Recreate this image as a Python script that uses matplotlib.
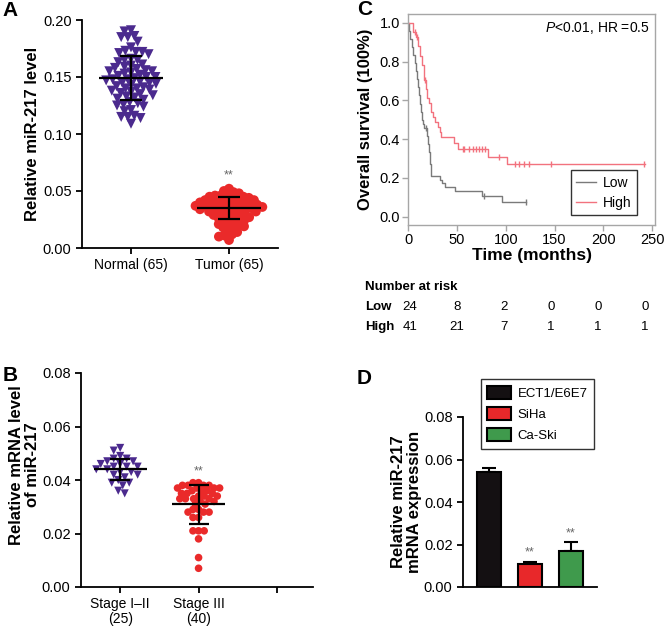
import numpy as np
import matplotlib
matplotlib.use('Agg')
import matplotlib.pyplot as plt
import matplotlib.transforms as mtransforms
from matplotlib.patches import Patch

plt.rcParams['font.family'] = ['Liberation Sans', 'DejaVu Sans']
plt.rcParams['mathtext.fontset'] = 'custom'
plt.rcParams['mathtext.it'] = 'Liberation Sans:italic'
plt.rcParams['mathtext.rm'] = 'Liberation Sans'

# ---- panel A: miR-217 in normal vs tumor tissue
a_groups = ['Normal (65)', 'Tumor (65)']
a_normal = [0.191, 0.190, 0.186, 0.185, 0.185, 0.181, 0.176, 0.173, 0.172, 0.172,
            0.171, 0.170, 0.166, 0.165, 0.165, 0.163, 0.161, 0.160, 0.159, 0.158,
            0.157, 0.156, 0.155, 0.155, 0.154, 0.153, 0.152, 0.151, 0.150, 0.150,
            0.149, 0.148, 0.148, 0.147, 0.146, 0.145, 0.145, 0.144, 0.143, 0.142,
            0.141, 0.140, 0.140, 0.139, 0.138, 0.137, 0.136, 0.135, 0.134, 0.133,
            0.132, 0.131, 0.130, 0.128, 0.127, 0.126, 0.125, 0.124, 0.121, 0.120,
            0.116, 0.115, 0.115, 0.114, 0.109]
a_tumor = [0.052, 0.050, 0.049, 0.048, 0.047, 0.046, 0.046, 0.045, 0.045, 0.044,
           0.044, 0.043, 0.043, 0.042, 0.042, 0.041, 0.041, 0.040, 0.040, 0.040,
           0.039, 0.039, 0.038, 0.038, 0.038, 0.037, 0.037, 0.036, 0.036, 0.036,
           0.035, 0.035, 0.035, 0.034, 0.034, 0.033, 0.033, 0.032, 0.032, 0.031,
           0.031, 0.030, 0.030, 0.029, 0.028, 0.028, 0.027, 0.026, 0.025, 0.025,
           0.024, 0.023, 0.022, 0.021, 0.020, 0.020, 0.019, 0.018, 0.017, 0.015,
           0.014, 0.012, 0.011, 0.010, 0.007]
a_mean = [0.149, 0.035]
a_sd = [0.0195, 0.0098]

# ---- panel B: by clinical stage
b_groups = ['Stage I\u2013II\n(25)', 'Stage III\n(40)', '']
b_early = [0.052, 0.051, 0.049, 0.048, 0.048, 0.047, 0.047, 0.046, 0.046, 0.045,
           0.045, 0.045, 0.044, 0.044, 0.043, 0.043, 0.042, 0.042, 0.041, 0.040,
           0.039, 0.039, 0.038, 0.036, 0.035]
b_late = [0.039, 0.039, 0.038, 0.038, 0.038, 0.038, 0.037, 0.037, 0.037, 0.037,
          0.036, 0.036, 0.036, 0.035, 0.035, 0.035, 0.034, 0.034, 0.034, 0.033,
          0.033, 0.033, 0.033, 0.032, 0.032, 0.031, 0.031, 0.029, 0.029, 0.028,
          0.028, 0.028, 0.026, 0.026, 0.021, 0.021, 0.021, 0.018, 0.011, 0.007]
b_mean = [0.044, 0.031]
b_sd = [0.004, 0.0073]

# ---- panel C: Kaplan-Meier
low_t = [0, 1, 2, 4, 5, 7, 8, 9, 10, 11, 12, 13, 14, 15, 16, 19, 20, 21, 22, 23,
         33, 35, 38, 48, 76, 96, 121]
low_s = [1.0, 0.958, 0.917, 0.875, 0.833, 0.792, 0.75, 0.708, 0.667, 0.625, 0.583,
         0.542, 0.5, 0.48, 0.458, 0.417, 0.375, 0.333, 0.27, 0.208, 0.19, 0.172,
         0.155, 0.134, 0.107, 0.074, 0.074]
low_cens_t = [18, 77.7, 120.6]
low_cens_s = [0.458, 0.107, 0.074]
high_t = [0, 5, 8, 10, 12, 14, 16, 18, 19, 21, 23, 25, 27, 30, 32, 34, 47, 51, 82,
          101, 243]
high_s = [1.0, 0.951, 0.927, 0.878, 0.829, 0.78, 0.707, 0.658, 0.61, 0.585, 0.54,
          0.512, 0.49, 0.464, 0.438, 0.412, 0.378, 0.347, 0.309, 0.27, 0.27]
high_cens_t = [7, 9, 17, 56, 57.5, 62.5, 66, 69, 72.6, 76, 78.7, 93, 109.8, 113.9,
               118.2, 123.3, 146.3, 242.2]
high_cens_s = [0.951, 0.927, 0.707, 0.347, 0.347, 0.347, 0.347, 0.347, 0.347, 0.347,
               0.347, 0.309, 0.27, 0.27, 0.27, 0.27, 0.27, 0.27]
risk_times = [0, 50, 100, 150, 200, 250]
risk_low = [24, 8, 2, 0, 0, 0]
risk_high = [41, 21, 7, 1, 1, 1]

# ---- panel D: cell lines
d_cells = ['ECT1/E6E7', 'SiHa', 'Ca-Ski']
d_vals = [0.054, 0.011, 0.017]
d_err = [0.002, 0.001, 0.004]
d_colors = ['#141012', '#e8282a', '#3f9a4c']

PURPLE = '#4b2a8e'
RED = '#ea2a2a'
W, H = 665, 626

fig = plt.figure(figsize=(W / 100, H / 100), dpi=100)


def add_ax(l, t, r, b):
    return fig.add_axes([l / W, 1 - b / H, (r - l) / W, (b - t) / H])


def prism(ax):
    for s in ['top', 'right']:
        ax.spines[s].set_visible(False)
    for s in ['left', 'bottom']:
        ax.spines[s].set_linewidth(1.3)
    ax.tick_params(direction='out', length=4.5, width=1.3, labelsize=10.5, pad=3)


def swarm_x(ax, center, vals, d_px):
    # simple beeswarm layout done in pixel space
    pos = ax.get_position()
    x0, x1 = ax.get_xlim()
    y0, y1 = ax.get_ylim()
    sx = pos.width * W / (x1 - x0)
    sy = pos.height * H / (y1 - y0)
    vals = np.asarray(vals)
    out = np.zeros(len(vals))
    placed = []
    for i in np.argsort(-vals, kind='stable'):
        y = vals[i] * sy
        blocked = []
        for px, py in placed:
            dy = abs(py - y)
            if dy < d_px:
                h = np.sqrt(d_px ** 2 - dy ** 2)
                blocked.append((px - h, px + h))
        cands = sorted([0.0] + [b for iv in blocked for b in iv], key=abs)
        for c in cands:
            if all(not (lo + 1e-9 < c < hi - 1e-9) for lo, hi in blocked):
                break
        placed.append((c, y))
        out[i] = center + c / sx
    return out


def mean_sd(ax, x, m, sd, half, cap):
    ax.hlines(m, x - half, x + half, color='black', lw=1.6, zorder=4)
    ax.errorbar(x, m, yerr=sd, fmt='none', ecolor='black', elinewidth=1.6,
                capsize=cap, capthick=1.6, zorder=4)


# ================= A
axA = add_ax(82, 20, 278, 248)
axA.set_xlim(-0.5, 1.5)
axA.set_ylim(0, 0.2)
prism(axA)
xs = swarm_x(axA, 0, a_normal, 6.6)
axA.scatter(xs, a_normal, marker='v', s=52, c=PURPLE, edgecolors='none', zorder=2)
xs = swarm_x(axA, 1, a_tumor, 5.6)
axA.scatter(xs, a_tumor, marker='o', s=50, c=RED, edgecolors='none', zorder=2)
for i in range(2):
    mean_sd(axA, i, a_mean[i], a_sd[i], 0.33, 8)
axA.annotate('**', (1, max(a_tumor)), xytext=(0, 5), textcoords='offset points',
             ha='center', va='bottom', fontsize=9, color='#666666')
axA.set_xticks([0, 1])
axA.set_xticklabels(a_groups, fontsize=10)
axA.set_yticks([0, 0.05, 0.10, 0.15, 0.20])
axA.set_yticklabels(['%.2f' % v for v in [0, 0.05, 0.10, 0.15, 0.20]])
axA.set_ylabel('Relative miR-217 level', fontsize=12, fontweight='bold')
axA.yaxis.set_label_coords(-0.214, 0.5)

# ================= B
axB = add_ax(81, 373, 313, 587)
axB.set_xlim(-0.5, 2.46)
axB.set_ylim(0, 0.08)
prism(axB)
xs = swarm_x(axB, 0, b_early, 7.0)
axB.scatter(xs, b_early, marker='v', s=34, c=PURPLE, edgecolors='none', zorder=2)
xs = swarm_x(axB, 1, b_late, 5.6)
axB.scatter(xs, b_late, marker='o', s=30, c=RED, edgecolors='none', zorder=2)
for i in range(2):
    mean_sd(axB, i, b_mean[i], b_sd[i], 0.34, 7)
axB.annotate('**', (1, max(b_late)), xytext=(0, 4), textcoords='offset points',
             ha='center', va='bottom', fontsize=9, color='#666666')
axB.set_xticks([0, 1, 2])
axB.set_xticklabels(b_groups, fontsize=10, linespacing=1.05)
axB.set_yticks([0, 0.02, 0.04, 0.06, 0.08])
axB.set_yticklabels(['%.2f' % v for v in [0, 0.02, 0.04, 0.06, 0.08]])
axB.set_ylabel('Relative mRNA level\nof miR-217', fontsize=12, fontweight='bold',
               linespacing=1.1)
axB.yaxis.set_label_coords(-0.178, 0.57)

# ================= C
GRAY = '#7a7a7a'
PINK = '#f2727e'
axC = add_ax(408.3, 14, 655, 225)
axC.set_xlim(0, 253)
axC.set_ylim(-0.043, 1.045)
for s in axC.spines.values():
    s.set_color('#a6a6a6')
    s.set_linewidth(1.0)
axC.tick_params(direction='out', length=4, width=1, color='#a6a6a6', labelsize=10.5,
                pad=2)
axC.step(low_t, low_s, where='post', color=GRAY, lw=1.0, label='Low')
axC.step(high_t, high_s, where='post', color=PINK, lw=1.0, label='High')
axC.plot(low_cens_t, low_cens_s, ls='none', marker='|', ms=5, mew=1, color=GRAY)
axC.plot(high_cens_t, high_cens_s, ls='none', marker='|', ms=5, mew=1, color=PINK)
axC.set_xticks([0, 50, 100, 150, 200, 250])
axC.set_yticks([0, 0.2, 0.4, 0.6, 0.8, 1.0])
axC.set_yticklabels(['%.1f' % v for v in [0, 0.2, 0.4, 0.6, 0.8, 1.0]])
axC.set_ylabel('Overall survival (100%)', fontsize=12, fontweight='bold')
axC.yaxis.set_label_coords(-0.143, 0.5)
axC.set_xlabel('Time (months)', fontsize=12.5, fontweight='bold', va='center')
axC.xaxis.set_label_coords(0.5, -0.143)
axC.text(0.98, 0.935, '$P$<0.01, HR =0.5', transform=axC.transAxes, ha='right',
         va='center', fontsize=10)
legC = axC.legend(loc='lower right', bbox_to_anchor=(0.927, 0.047), borderaxespad=0,
                  fontsize=10, frameon=True, fancybox=False, handlelength=1.4,
                  handletextpad=0.5, labelspacing=0.4, borderpad=0.4)
legC.get_frame().set_edgecolor('black')
legC.get_frame().set_linewidth(1.0)

# risk table
axT = add_ax(410, 277, 645, 337)
axT.set_xlim(0, 250)
axT.set_ylim(3, 0)
axT.axis('off')
tr = mtransforms.blended_transform_factory(axT.transAxes, axT.transData)
axT.text(-0.191, 0.5, 'Number at risk', transform=tr, ha='left', va='center',
         fontsize=9.5, fontweight='bold')
for row, name, vals in [(1.5, 'Low', risk_low), (2.5, 'High', risk_high)]:
    axT.text(-0.191, row, name, transform=tr, ha='left', va='center',
             fontsize=9.5, fontweight='bold')
    for t, v in zip(risk_times, vals):
        axT.text(t, row, str(v), ha='center', va='center', fontsize=9.5)

# ================= D
axD = add_ax(463, 417, 597, 587)
axD.set_xlim(-0.63, 2.63)
axD.set_ylim(0, 0.08)
prism(axD)
pos = np.arange(len(d_vals))
axD.errorbar(pos, d_vals, yerr=[[0] * len(d_err), d_err], fmt='none', ecolor='black',
             elinewidth=1.5, capsize=5, capthick=1.5, zorder=1)
axD.bar(pos, d_vals, width=0.6, color=d_colors, edgecolor='black', linewidth=1.5,
        zorder=2)
for i in [1, 2]:
    axD.annotate('**', (i, d_vals[i] + d_err[i]), xytext=(0, 2),
                 textcoords='offset points', ha='center', va='bottom', fontsize=9,
                 color='#666666')
axD.set_xticks([])
axD.set_yticks([0, 0.02, 0.04, 0.06, 0.08])
axD.set_yticklabels(['%.2f' % v for v in [0, 0.02, 0.04, 0.06, 0.08]])
axD.set_ylabel('Relative miR-217\nmRNA expression', fontsize=12, fontweight='bold',
               linespacing=1.1)
axD.yaxis.set_label_coords(-0.306, 0.5)
handles = [Patch(facecolor=c, edgecolor='black', linewidth=1.5) for c in d_colors]
legD = axD.legend(handles, d_cells, loc='upper right', bbox_to_anchor=(0.978, 1.224),
                  borderaxespad=0, fontsize=9.5, fancybox=False, handlelength=1.8,
                  handleheight=1.15, handletextpad=0.5, labelspacing=0.55,
                  borderpad=0.5)
legD.get_frame().set_edgecolor('black')
legD.get_frame().set_linewidth(1.0)

# panel letters
for x, y, s in [(2, 1, 'A'), (3, 366, 'B'), (357, 0, 'C'), (357, 369, 'D')]:
    fig.text(x / W, 1 - y / H, s, fontsize=15, fontweight='bold', va='top', ha='left')

fig.savefig('out.png', dpi=100)
